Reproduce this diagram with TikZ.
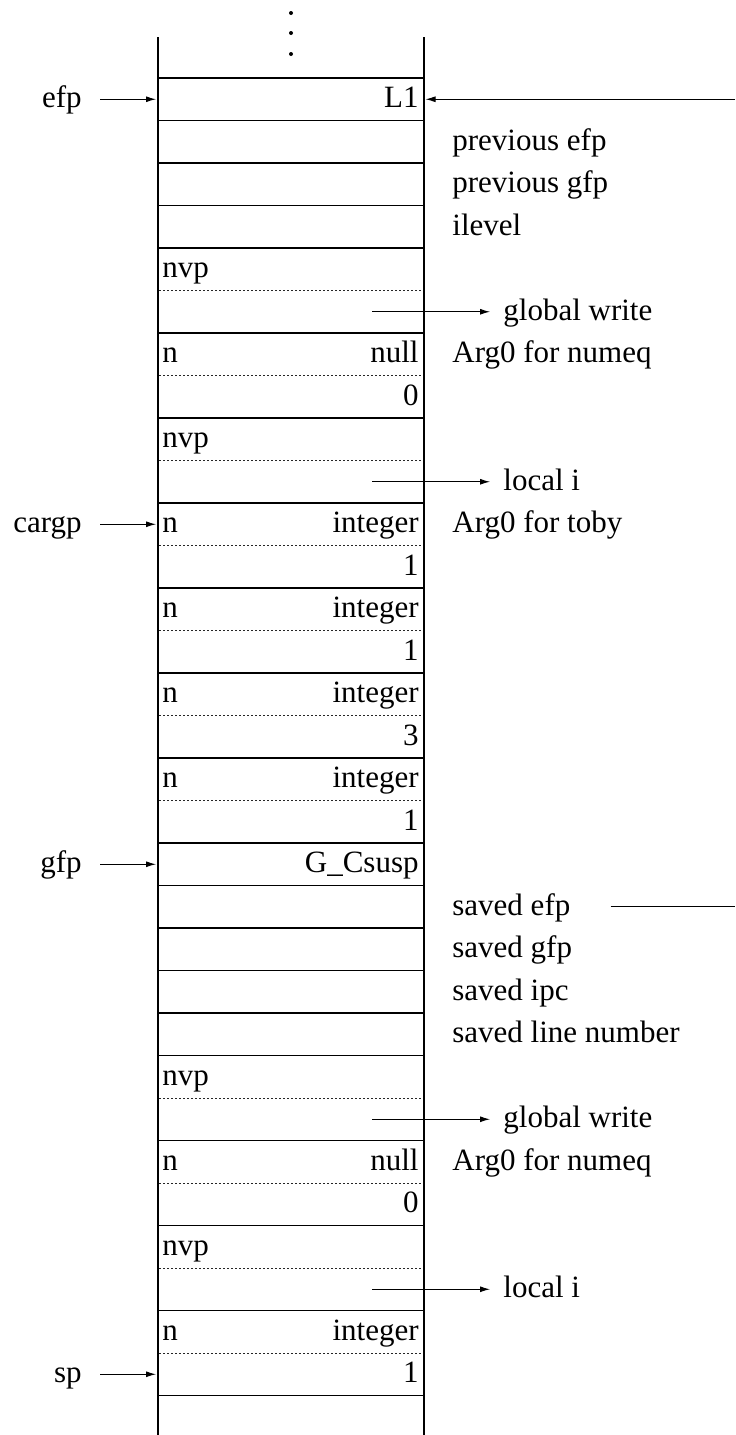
\documentclass[tikz,border=0pt]{standalone}
\usepackage{fontspec}
\setmainfont{Liberation Serif}
\usetikzlibrary{arrows.meta}
\begin{document}
\begin{tikzpicture}[x=0.5pt,y=-0.5pt,
  every node/.style={font=\fontsize{15.5}{18}\selectfont, inner sep=0pt, text height=11pt, text depth=2.5pt},
  solidline/.style={line width=0.8pt},
  dotline/.style={line width=0.45pt, dash pattern=on 0.8pt off 1.2pt, black!85},
  wall/.style={line width=0.7pt},
  arr/.style={line width=0.5pt,-{Latex[length=5pt,width=3pt]}},
  plainline/.style={line width=0.5pt},
  cellleft/.style={anchor=west},
  cellright/.style={anchor=east},
  annot/.style={anchor=west},
  ptrlabel/.style={anchor=east}]
\useasboundingbox (0,0) rectangle (735,1435);
% continuation dots
\foreach \i/\yy in {1/13,2/33,3/54}
  \fill (291,\yy) circle[radius=1pt];
% walls
\draw[wall] (158,37) -- (158,1435);
\draw[wall] (424,37) -- (424,1435);
% solid row lines
\foreach \k in {0,1,2,3,4,6,8,10,12,14,16,18,19,20,21,22,23,25,27,29,31}
  \draw[solidline] (158,{78+42.5*\k}) -- (424,{78+42.5*\k});
% dotted sub-row lines
\foreach \k in {5,7,9,11,13,15,17,24,26,28,30}
  \draw[dotline] (159,{78+42.5*\k}) -- (422,{78+42.5*\k});
% cell texts, right aligned
\foreach \k/\t in {0/L1,6/null,7/0,10/integer,11/1,12/integer,13/1,14/integer,15/3,16/integer,17/1,18/G\_Csusp,25/null,26/0,29/integer,30/1}
  \node[cellright] (rc\k) at (419,{99.25+42.5*\k}) {\t};
% cell texts, left aligned
\foreach \k/\t in {4/nvp,6/n,8/nvp,10/n,12/n,14/n,16/n,23/nvp,25/n,27/nvp,29/n}
  \node[cellleft] (lc\k) at (162,{99.25+42.5*\k}) {\t};
% annotations to the right
\foreach \k/\t in {1/previous efp,2/previous gfp,3/ilevel,6/Arg0 for numeq,10/Arg0 for toby,19/saved efp,20/saved gfp,21/saved ipc,22/saved line number,25/Arg0 for numeq}
  \node[annot] (ann\k) at (452,{99.25+42.5*\k}) {\t};
% arrowed annotations
\foreach \k/\t in {5/global write,9/local i,24/global write,28/local i}{
  \node[annot] (tgt\k) at (503,{99.25+42.5*\k}) {\t};
  \coordinate (src\k) at (372,{99.25+42.5*\k});
  \draw[arr, shorten >=6.5pt] (src\k) -- (tgt\k.west);
}
% pointers from the left
\foreach \k/\t in {0/efp,10/cargp,18/gfp,30/sp}{
  \node[ptrlabel] (ptr\k) at (82,{99.25+42.5*\k}) {\t};
  \coordinate (in\k) at (156,{99.25+42.5*\k});
  \draw[arr, shorten <=9pt] (ptr\k.east) -- (in\k);
}
% L1 link from the right
\coordinate (L1src) at (735,99.25);
\coordinate (L1in) at (425.5,99.25);
\draw[arr] (L1src) -- (L1in);
% saved efp link to the right
\coordinate (seend) at (735,906.75);
\draw[plainline, shorten <=20pt] (ann19.east) -- (seend);
\end{tikzpicture}
\end{document}
